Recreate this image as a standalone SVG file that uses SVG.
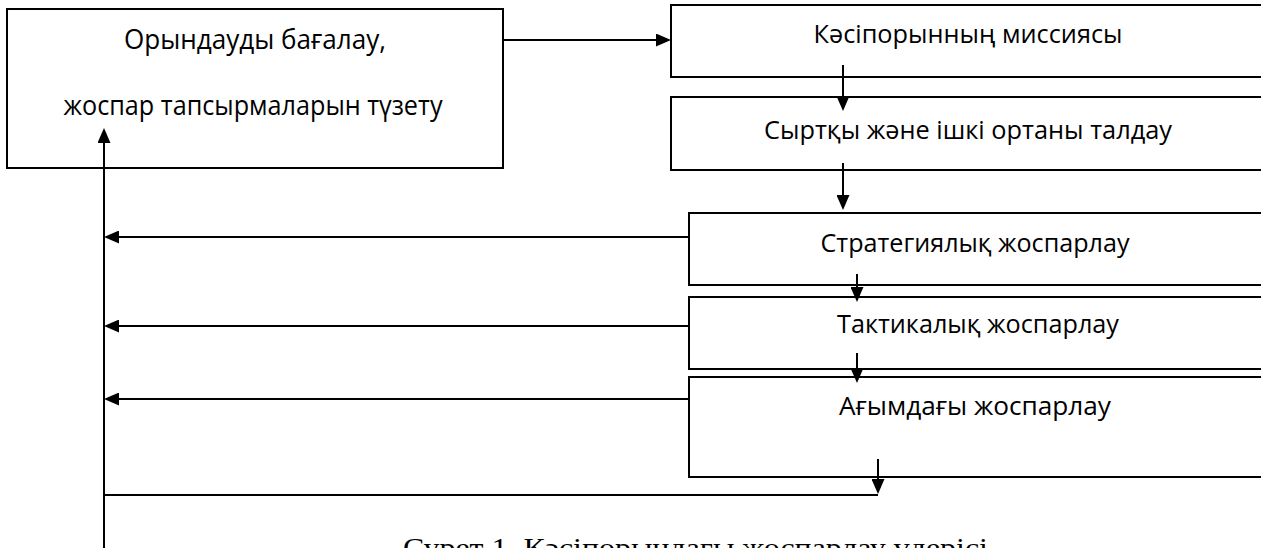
<svg xmlns="http://www.w3.org/2000/svg" width="1261" height="548" viewBox="0 0 1261 548">
<style>
.box{fill:#fff;stroke:#000;stroke-width:2}
.t{font-family:"Open Sans","Noto Sans",sans-serif;fill:#000;text-anchor:middle}
.cap{font-family:"Liberation Serif","Times New Roman",serif;fill:#000;font-size:28px}
.ln{fill:none;stroke:#000;stroke-width:2}
.ar{fill:none;stroke:#000;stroke-width:2;marker-end:url(#ah)}
</style>
<defs>
<marker id="ah" viewBox="0 0 15 13" refX="7" refY="6.5" markerWidth="15" markerHeight="13" markerUnits="userSpaceOnUse" orient="auto">
<path d="M0,0 L15,6.5 L0,13 z" fill="#000"/>
</marker>
</defs>
<rect width="1261" height="548" fill="#fff"/>
<g id="evaluate">
<rect class="box" x="7" y="9" width="496" height="159"/>
<text class="t" x="255" y="49" font-size="27" textLength="262" lengthAdjust="spacingAndGlyphs">Орындауды бағалау,</text>
<text class="t" x="253" y="115" font-size="27" textLength="379" lengthAdjust="spacingAndGlyphs">жоспар тапсырмаларын түзету</text>
</g>
<g id="mission">
<rect class="box" x="671" y="5" width="600" height="72"/>
<text class="t" x="968" y="43" font-size="25" textLength="309" lengthAdjust="spacingAndGlyphs">Кәсіпорынның миссиясы</text>
</g>
<g id="analysis">
<rect class="box" x="671" y="97" width="600" height="73"/>
<text class="t" x="968" y="139" font-size="25" textLength="408" lengthAdjust="spacingAndGlyphs">Сыртқы және ішкі ортаны талдау</text>
</g>
<g id="strategic">
<rect class="box" x="689" y="213" width="600" height="72"/>
<text class="t" x="975" y="252" font-size="25" textLength="309" lengthAdjust="spacingAndGlyphs">Стратегиялық жоспарлау</text>
</g>
<g id="tactical">
<rect class="box" x="689" y="297" width="600" height="72"/>
<text class="t" x="978" y="333" font-size="25" textLength="282" lengthAdjust="spacingAndGlyphs">Тактикалық жоспарлау</text>
</g>
<g id="current">
<rect class="box" x="689" y="377" width="600" height="100"/>
<text class="t" x="975" y="415" font-size="25" textLength="272" lengthAdjust="spacingAndGlyphs">Ағымдағы жоспарлау</text>
</g>
<g id="connectors">
<path class="ar" d="M503,40 H663"/>
<path class="ar" d="M843,65 V103"/>
<path class="ar" d="M843,163 V202"/>
<path class="ar" d="M857,274 V294"/>
<path class="ar" d="M857,353 V375"/>
<path class="ar" d="M878,459 V486"/>
<path class="ln" d="M878,495 H104"/>
<path class="ar" d="M104,548 V136"/>
<path class="ar" d="M689,237 H112"/>
<path class="ar" d="M689,326 H112"/>
<path class="ar" d="M689,399 H112"/>
</g>
<text class="cap" x="403" y="557" textLength="585" lengthAdjust="spacingAndGlyphs">Сурет 1. Кәсіпорындағы жоспарлау үдерісі</text>
</svg>
